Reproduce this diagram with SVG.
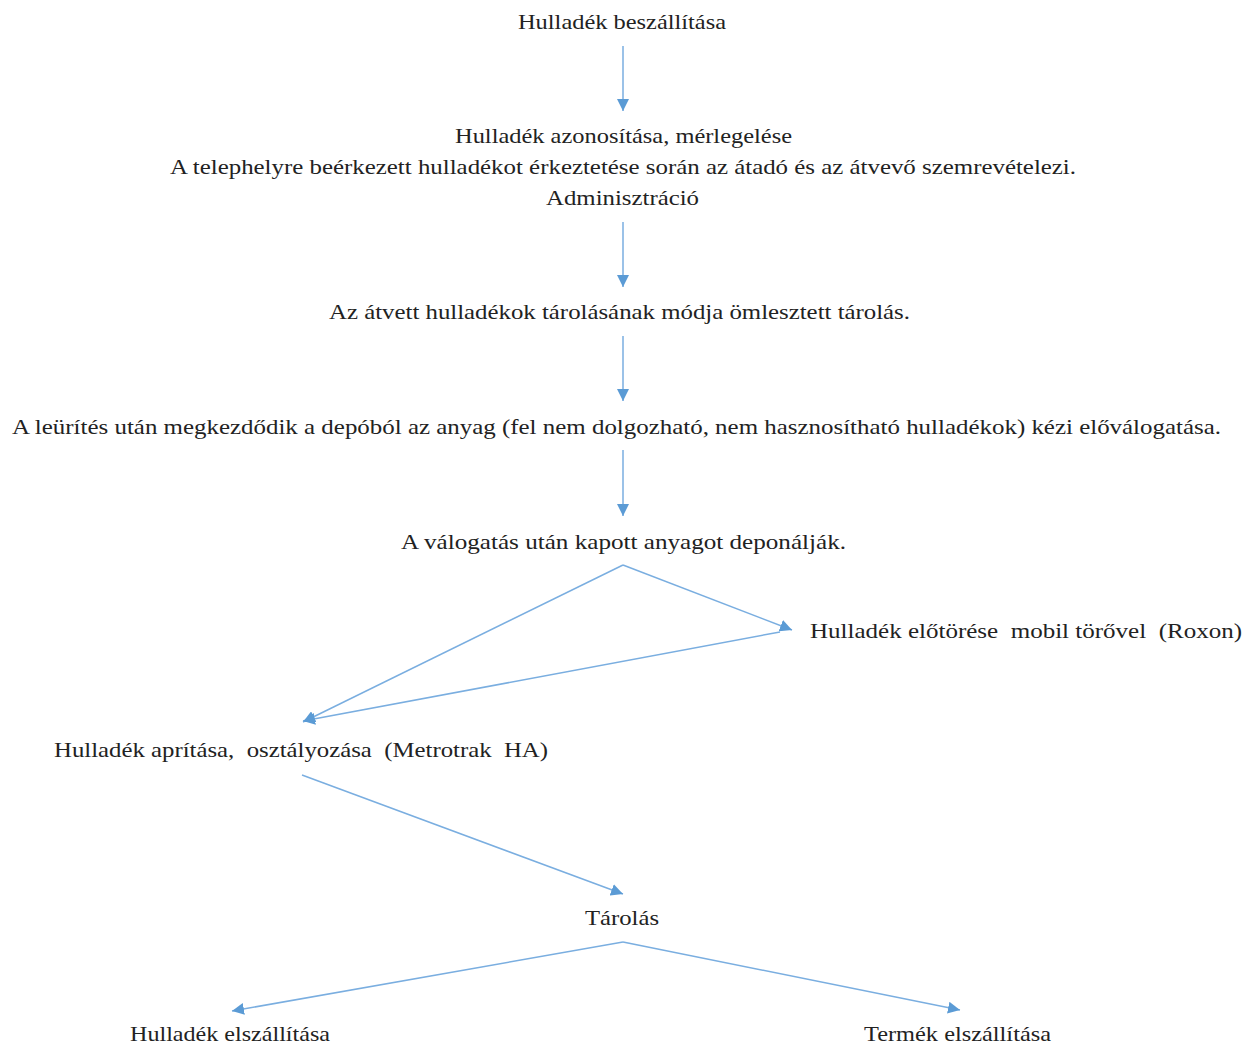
<svg xmlns="http://www.w3.org/2000/svg" width="1251" height="1046" viewBox="0 0 1251 1046">
<style>
.t{font-family:"Liberation Serif","Times New Roman",serif;font-size:21px;fill:#222;}
.c{stroke:#7aaee0;stroke-width:1.5;fill:none;marker-end:url(#ah);}
</style>
<defs>
<marker id="ah" markerUnits="userSpaceOnUse" markerWidth="13" markerHeight="12" refX="12" refY="6" orient="auto" viewBox="0 0 13 12">
<path d="M0,0 L12,6 L0,12 z" fill="#5b9bd5"/>
</marker>
</defs>
<rect width="1251" height="1046" fill="#fff"/>
<g id="connectors">
<line class="c" x1="623" y1="46" x2="623" y2="111"/>
<line class="c" x1="623" y1="222" x2="623" y2="287"/>
<line class="c" x1="623" y1="336" x2="623" y2="401"/>
<line class="c" x1="623" y1="450" x2="623" y2="516"/>
<polyline class="c" points="623,565 792,630"/>
<polyline class="c" points="623,565 303,722"/>
<polyline class="c" points="780,632 303,721"/>
<line class="c" x1="302" y1="775" x2="623" y2="894"/>
<line class="c" x1="623" y1="942" x2="232" y2="1011"/>
<line class="c" x1="623" y1="942" x2="960" y2="1010"/>
</g>
<g id="n1"><text class="t" x="518" y="29" textLength="208" lengthAdjust="spacingAndGlyphs">Hulladék beszállítása</text></g>
<g id="n2">
<text class="t" x="455" y="143" textLength="337" lengthAdjust="spacingAndGlyphs">Hulladék azonosítása, mérlegelése</text>
<text class="t" x="170" y="174" textLength="906" lengthAdjust="spacingAndGlyphs">A telephelyre beérkezett hulladékot érkeztetése során az átadó és az átvevő szemrevételezi.</text>
<text class="t" x="546" y="205" textLength="153" lengthAdjust="spacingAndGlyphs">Adminisztráció</text>
</g>
<g id="n3"><text class="t" x="329" y="319" textLength="581" lengthAdjust="spacingAndGlyphs">Az átvett hulladékok tárolásának módja ömlesztett tárolás.</text></g>
<g id="n4"><text class="t" x="12" y="434" textLength="1209" lengthAdjust="spacingAndGlyphs">A leürítés után megkezdődik a depóból az anyag (fel nem dolgozható, nem hasznosítható hulladékok) kézi előválogatása.</text></g>
<g id="n5"><text class="t" x="401" y="549" textLength="445" lengthAdjust="spacingAndGlyphs">A válogatás után kapott anyagot deponálják.</text></g>
<g id="n6"><text class="t" x="810" y="638" textLength="432" lengthAdjust="spacingAndGlyphs" xml:space="preserve">Hulladék előtörése  mobil törővel  (Roxon)</text></g>
<g id="n7"><text class="t" x="54" y="757" textLength="494" lengthAdjust="spacingAndGlyphs" xml:space="preserve">Hulladék aprítása,  osztályozása  (Metrotrak  HA)</text></g>
<g id="n8"><text class="t" x="585" y="925" textLength="74" lengthAdjust="spacingAndGlyphs">Tárolás</text></g>
<g id="n9"><text class="t" x="130" y="1041" textLength="200" lengthAdjust="spacingAndGlyphs">Hulladék elszállítása</text></g>
<g id="n10"><text class="t" x="864" y="1041" textLength="187" lengthAdjust="spacingAndGlyphs">Termék elszállítása</text></g>
</svg>
